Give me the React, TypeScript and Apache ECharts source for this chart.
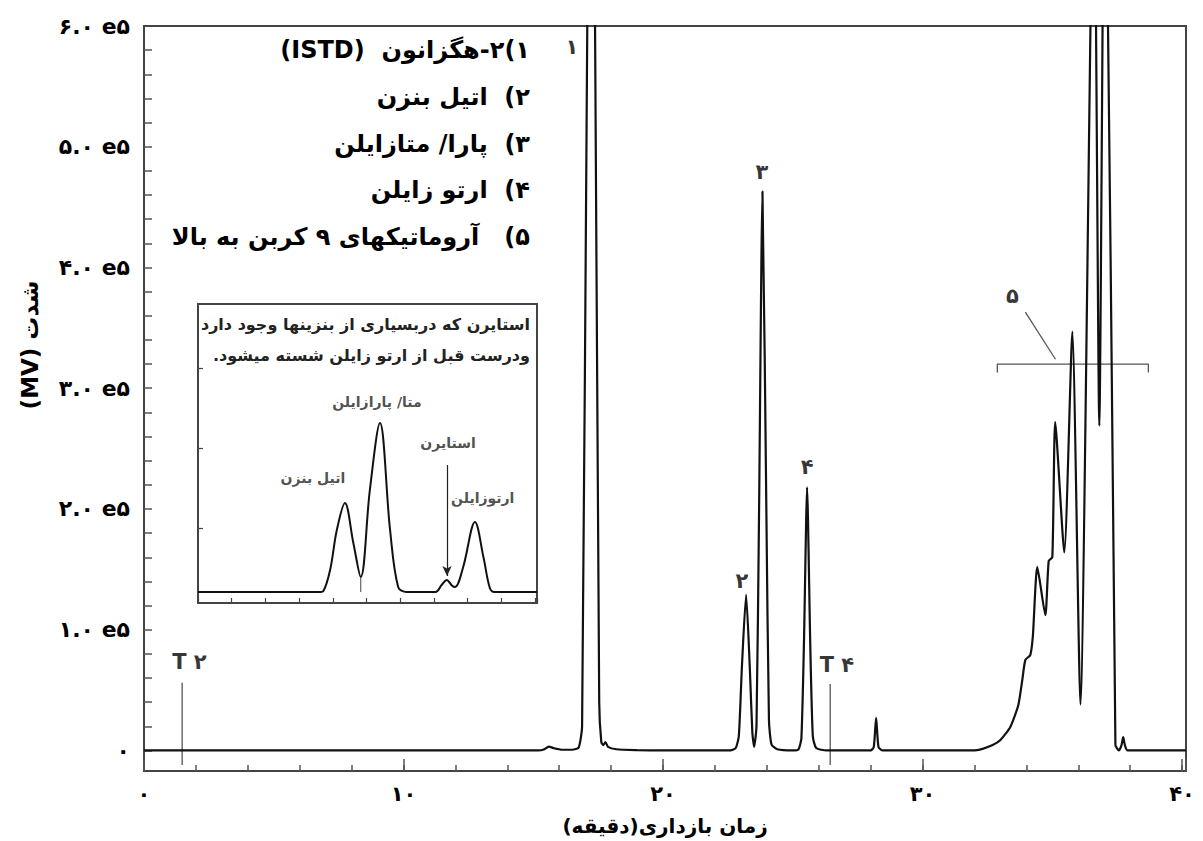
import React, { useEffect, useRef } from 'react';
import * as echarts from 'echarts';

// ---------- helpers ----------
const FA_DIGITS = '۰۱۲۳۴۵۶۷۸۹';
const fa = (s: string | number) => String(s).replace(/\d/g, (d) => FA_DIGITS[+d]);
const rtl = (s: string) => '\u202B' + s + '\u202C';
const FONT = '"DejaVu Sans", "Noto Sans", sans-serif';

// ---------- main chromatogram (retention time in min, signal in MV) ----------
const mainTime = [
  0, 15.2, 15.4, 15.6, 15.8, 16.1, 16.5, 16.75, 16.88, 17.08, 17.22, 17.38, 17.54, 17.62, 17.7, 17.78, 17.88, 18.2, 19.0, 20.0,
  22.6, 22.8, 22.92, 23.04, 23.2, 23.34, 23.44, 23.51, 23.6, 23.7, 23.83, 23.98, 24.08, 24.18, 24.4, 25.0,
  25.22, 25.33, 25.43, 25.55, 25.67, 25.77, 25.9, 26.3,
  28.0, 28.12, 28.21, 28.3, 28.45,
  31.4, 32.1, 32.7, 33.0, 33.38, 33.69, 33.84, 33.96, 34.15, 34.25, 34.42, 34.73, 34.86, 35.0, 35.11, 35.46, 35.77, 36.08,
  36.6, 36.81, 37.03, 37.43, 37.56, 37.66, 37.73, 37.8, 37.9, 40.15,
];
const mainSignal = [
  0, 0, 800, 3200, 1800, 600, 600, 2500, 20000, 600000, 950000, 600000, 40000, 7000, 4500, 7000, 3000, 1000, 300, 0,
  0, 2000, 12000, 70000, 129000, 70000, 15000, 3000, 20000, 200000, 463000, 200000, 25000, 5000, 1000, 0,
  1000, 10000, 90000, 218000, 90000, 12000, 2000, 0,
  0, 3000, 27000, 3000, 0,
  0, 300, 4600, 8700, 19500, 37700, 58000, 75000, 79000, 95000, 152000, 112000, 157000, 160000, 272000, 164000, 347000, 38000,
  760000, 269000, 820000, 4600, 0, 4000, 11000, 4000, 0, 0,
];

// reference markers T (time, top, bottom)
const markerTimes = [1.47, 26.44];
const markerTop = [56000, 55000];
const markerBottom = -12000;

// peak annotations [time, signal, text]
const peakNotes: [number, number, string][] = [
  [16.49, 583000, '۱'],
  [23.04, 140000, '۲'],
  [23.81, 479000, '۳'],
  [25.55, 235000, '۴'],
  [1.75, 73000, 'T ۲'],
  [26.7, 71000, 'T ۴'],
  [33.46, 376000, '۵'],
];

// group 5 bracket and leader
const bracketStart = 32.88;
const bracketEnd = 38.7;
const bracketLevel = 320000;
const bracketFoot = 313000;
const leader: [number, number][] = [[33.96, 363000], [35.12, 324000]];

// axis values
const yTickValues = Array.from({ length: 30 }, (_, i) => i * 20000);
const yLabelValues = [0, 100000, 200000, 300000, 400000, 500000, 600000];

// legend
const legendLines = [
  '۱)۲-هگزانون  (ISTD)',
  '۲)  اتیل بنزن',
  '۳)  پارا/ متازایلن',
  '۴)  ارتو زایلن',
  '۵)   آروماتیکهای ۹ کربن به بالا',
];

// ---------- inset chromatogram ----------
const insetTime = [0, 3.6, 3.72, 3.92, 4.12, 4.36, 4.61, 4.83, 5.1, 5.4, 5.7, 5.94, 6.19, 7.05, 7.23, 7.38, 7.55, 7.63, 7.87, 8.22, 8.47, 8.66, 8.8, 10.06];
const insetSignal = [0, 0, 1, 22, 62, 89, 49, 15, 102, 169, 62, 5, 0, 0, 7, 12, 6, 5, 25, 70, 35, 4, 0, 0];
const insetNotes: [number, number, string][] = [
  [3.41, 114, 'اتیل بنزن'],
  [5.31, 190, 'متا/ پارازایلن'],
  [7.42, 149, 'استایرن'],
  [8.45, 94, 'ارتوزایلن'],
];
const insetTitle = ['استایرن که دربسیاری از بنزینها وجود دارد', 'ودرست قبل از ارتو زایلن شسته میشود.'];
const styreneArrow: [number, number][] = [[7.39, 127], [7.39, 16]];
const valleyDrop: [number, number][] = [[4.83, 15], [4.83, 0]];

export default function App() {
  const ref = useRef<HTMLDivElement>(null);
  useEffect(() => {
    if (!ref.current) return;
    const chart = echarts.init(ref.current, undefined, { renderer: 'svg' });
    const tickStyle = { color: '#555', width: 1.5 };
    const thin = { color: '#555', width: 1.3 };
    const noLine = { show: false, onZero: false };

    const option: any = {
      animation: false,
      backgroundColor: '#fff',
      grid: [
        { left: 144, top: 26, width: 1042, height: 745, show: true, borderColor: '#444', borderWidth: 2, backgroundColor: 'transparent' },
        { left: 198, top: 304, width: 339, height: 299, show: true, borderColor: '#444', borderWidth: 2, backgroundColor: '#fff' },
      ],
      xAxis: [
        {
          gridIndex: 0, type: 'value', min: 0, max: 40.15, interval: 2, position: 'bottom',
          axisLine: noLine, axisTick: { inside: true, length: 6, lineStyle: tickStyle },
          axisLabel: { show: false }, splitLine: { show: false },
        },
        {
          gridIndex: 0, type: 'value', min: 0, max: 40.15, interval: 10, position: 'bottom',
          axisLine: noLine, axisTick: { inside: true, length: 12, lineStyle: tickStyle },
          axisLabel: {
            formatter: (v: number) => (Math.abs(v % 10) < 1e-6 ? fa(v) : ''),
            fontFamily: FONT, fontWeight: 'bold', fontSize: 21, color: '#000', margin: 12,
          },
          splitLine: { show: false },
          name: rtl('زمان بازداری(دقیقه)'), nameLocation: 'middle', nameGap: 45,
          nameTextStyle: { fontFamily: FONT, fontWeight: 'bold', fontSize: 20, color: '#000' },
        },
        {
          gridIndex: 1, type: 'value', min: 0, max: 10.06, interval: 1, position: 'bottom',
          axisLine: noLine, axisTick: { inside: true, length: 5, lineStyle: { color: '#444', width: 1.2 } },
          axisLabel: { show: false }, splitLine: { show: false },
        },
      ],
      yAxis: [
        {
          gridIndex: 0, type: 'value', min: -17000, max: 600000, position: 'left',
          axisLine: noLine,
          axisTick: { inside: true, length: 8, customValues: yTickValues, lineStyle: tickStyle },
          axisLabel: {
            customValues: yLabelValues,
            formatter: (v: number) => (v === 0 ? '۰' : fa(Math.round(v / 100000)) + '.۰ e۵'),
            fontFamily: FONT, fontWeight: 'bold', fontSize: 22, color: '#000', margin: 14,
          },
          splitLine: { show: false },
        },
        {
          gridIndex: 1, type: 'value', min: -11, max: 288, position: 'left',
          axisLine: noLine,
          axisTick: { inside: true, length: 5, customValues: [64, 144, 224], lineStyle: { color: '#444', width: 1.2 } },
          axisLabel: { show: false }, splitLine: { show: false },
        },
      ],
      series: [
        {
          type: 'line', xAxisIndex: 0, yAxisIndex: 0, symbol: 'none', smooth: 0.2, clip: true, z: 3,
          lineStyle: { color: '#111', width: 2.2 },
          data: mainTime.map((t, i) => [t, mainSignal[i]]),
        },
        ...markerTimes.map((t, i) => ({
          type: 'line', xAxisIndex: 0, yAxisIndex: 0, symbol: 'none', z: 2,
          lineStyle: thin,
          data: [[t, markerTop[i]], [t, markerBottom]],
        })),
        {
          type: 'line', xAxisIndex: 0, yAxisIndex: 0, symbol: 'none', z: 2, lineStyle: thin,
          data: [[bracketStart, bracketFoot], [bracketStart, bracketLevel], [bracketEnd, bracketLevel], [bracketEnd, bracketFoot]],
        },
        {
          type: 'line', xAxisIndex: 0, yAxisIndex: 0, symbol: 'none', z: 2, lineStyle: thin,
          data: leader,
        },
        {
          type: 'scatter', xAxisIndex: 0, yAxisIndex: 0, symbolSize: 1, z: 4,
          itemStyle: { color: 'transparent' },
          label: {
            show: true, position: 'inside', formatter: '{b}',
            fontFamily: FONT, fontWeight: 'bold', fontSize: 21, color: '#000', textBorderWidth: 0,
          },
          data: peakNotes.map(([t, v, s]) => ({ name: s, value: [t, v] })),
        },
        {
          type: 'line', xAxisIndex: 2, yAxisIndex: 1, symbol: 'none', smooth: 0.35, z: 6,
          lineStyle: { color: '#111', width: 2 },
          data: insetTime.map((t, i) => [t, insetSignal[i]]),
          markLine: {
            silent: true, symbol: ['none', 'arrow'], symbolSize: [7, 10],
            lineStyle: { color: '#222', width: 1.2, type: 'solid' }, label: { show: false },
            data: [[{ coord: styreneArrow[0] }, { coord: styreneArrow[1] }]],
          },
        },
        {
          type: 'line', xAxisIndex: 2, yAxisIndex: 1, symbol: 'none', z: 6,
          lineStyle: { color: '#444', width: 1 },
          data: valleyDrop,
        },
        {
          type: 'scatter', xAxisIndex: 2, yAxisIndex: 1, symbolSize: 1, z: 7,
          itemStyle: { color: 'transparent' },
          label: {
            show: true, position: 'inside', formatter: (p: any) => rtl(p.name),
            fontFamily: FONT, fontWeight: 'bold', fontSize: 14, color: '#222', textBorderWidth: 0,
          },
          data: insetNotes.map(([t, v, s]) => ({ name: s, value: [t, v] })),
        },
      ],
      graphic: [
        ...legendLines.map((s, i) => ({
          type: 'text', x: 530, y: 50 + i * 46.8, z: 10,
          style: {
            text: rtl(s), font: `bold 24px ${FONT}`, fill: '#000',
            align: 'right', verticalAlign: 'middle', textAlign: 'right', textVerticalAlign: 'middle',
          },
        })),
        ...insetTitle.map((s, i) => ({
          type: 'text', x: 530, y: 324 + i * 31, z: 10,
          style: {
            text: rtl(s), font: `bold 16px ${FONT}`, fill: '#222',
            align: 'right', verticalAlign: 'middle', textAlign: 'right', textVerticalAlign: 'middle',
          },
        })),
        {
          type: 'text', x: 30, y: 345, rotation: Math.PI / 2, z: 10,
          style: {
            text: rtl('شدت (MV)'), font: `bold 23px ${FONT}`, fill: '#000',
            align: 'center', verticalAlign: 'middle', textAlign: 'center', textVerticalAlign: 'middle',
          },
        },
      ],
    };
    chart.setOption(option);
    return () => chart.dispose();
  }, []);
  return <div ref={ref} style={{ position: 'fixed', left: 0, top: 0, width: 1203, height: 841, background: '#fff' }} />;
}
